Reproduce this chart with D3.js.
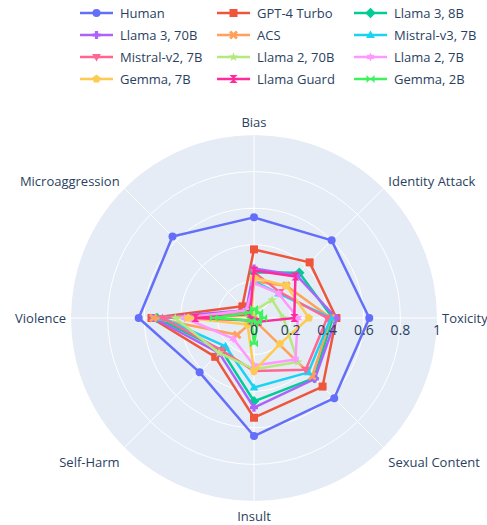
<!DOCTYPE html>
<html>
<head>
<meta charset="utf-8">
<script src="https://cdn.jsdelivr.net/npm/d3@7"></script>
<style>
  body { margin: 0; background: #fff; }
  svg { display: block; font-family: "Open Sans", verdana, arial, sans-serif; }
</style>
</head>
<body>
<svg id="chart" width="487" height="525"></svg>
<script>
// categories go counter-clockwise starting at 3 o'clock
const categories = ['Toxicity', 'Identity Attack', 'Bias', 'Microaggression', 'Violence', 'Self-Harm', 'Insult', 'Sexual Content']
const radialTicks = [0, 0.2, 0.4, 0.6, 0.8, 1]

const human      = [0.63, 0.60, 0.55, 0.63, 0.63, 0.42, 0.645, 0.62]
const gpt4Turbo  = [0.45, 0.43, 0.375, 0.09, 0.56, 0.30, 0.545, 0.53]
const llama3_8b  = [0.43, 0.35, 0.25, 0.05, 0.53, 0.25, 0.455, 0.465]
const llama3_70b = [0.45, 0.33, 0.27, 0.06, 0.55, 0.27, 0.49, 0.47]
const acs        = [0.42, 0.25, 0.20, 0.04, 0.55, 0.13, 0.01, 0.45]
const mistralV3  = [0.42, 0.19, 0.20, 0.03, 0.50, 0.22, 0.38, 0.42]
const mistralV2  = [0.40, 0.20, 0.25, 0.04, 0.50, 0.25, 0.29, 0.40]
const llama2_70b = [0.16, 0.14, 0.04, 0.03, 0.43, 0.27, 0.28, 0.34]
const llama2_7b  = [0.24, 0.19, 0.19, 0.06, 0.38, 0.16, 0.26, 0.32]
const gemma7b    = [0.30, 0.25, 0.22, 0.02, 0.36, 0.05, 0.29, 0.20]
const llamaGuard = [0.22, 0.32, 0.26, 0.03, 0.32, 0.02, 0.02, 0.03]
const gemma2b    = [0.05, 0.04, 0.05, 0.04, 0.22, 0.02, 0.14, 0.03]

const series = [
  {name: 'Human', values: human, color: '#636efa', symbol: 'circle'},
  {name: 'GPT-4 Turbo', values: gpt4Turbo, color: '#EF553B', symbol: 'square'},
  {name: 'Llama 3, 8B', values: llama3_8b, color: '#00cc96', symbol: 'diamond'},
  {name: 'Llama 3, 70B', values: llama3_70b, color: '#ab63fa', symbol: 'cross'},
  {name: 'ACS', values: acs, color: '#FFA15A', symbol: 'x'},
  {name: 'Mistral-v3, 7B', values: mistralV3, color: '#19d3f3', symbol: 'triangle-up'},
  {name: 'Mistral-v2, 7B', values: mistralV2, color: '#FF6692', symbol: 'triangle-down'},
  {name: 'Llama 2, 70B', values: llama2_70b, color: '#B6E880', symbol: 'star'},
  {name: 'Llama 2, 7B', values: llama2_7b, color: '#FF97FF', symbol: 'hexagram'},
  {name: 'Gemma, 7B', values: gemma7b, color: '#FECB52', symbol: 'pentagon'},
  {name: 'Llama Guard', values: llamaGuard, color: '#ff2a9b', symbol: 'hourglass'},
  {name: 'Gemma, 2B', values: gemma2b, color: '#3ef25c', symbol: 'bowtie'}
]

const svg = d3.select('#chart')
const cx = 254, cy = 318, R = 183
const textColor = '#2a3f5f'

let r = d3.scaleLinear().domain([0, 1]).range([0, R])
let angle = d3.scalePoint().domain(categories).range([0, 2 * Math.PI * 7 / 8])
// counter-clockwise from east
let px = (cat, v) => cx + r(v) * Math.cos(angle(cat))
let py = (cat, v) => cy - r(v) * Math.sin(angle(cat))

// marker shapes
let poly = (pts) => 'M' + pts.map(p => p.join(',')).join('L') + 'Z'
let symbolPath = (name, s) => {
  let h = s / 2
  switch (name) {
    case 'circle': return d3.symbol(d3.symbolCircle, s * s * 0.785)()
    case 'square': return poly([[-h, -h], [h, -h], [h, h], [-h, h]])
    case 'diamond': return poly([[0, -h * 1.3], [h * 1.3, 0], [0, h * 1.3], [-h * 1.3, 0]])
    case 'cross': {
      let t = h * 0.4
      return poly([[-t, -h], [t, -h], [t, -t], [h, -t], [h, t], [t, t], [t, h], [-t, h], [-t, t], [-h, t], [-h, -t], [-t, -t]])
    }
    case 'x': {
      // two crossed bars
      let b = h * 1.2, w = h * 0.35
      let bar = (a) => {
        let c = Math.cos(a), sn = Math.sin(a)
        let q = [[-b, -w], [b, -w], [b, w], [-b, w]].map(([x, y]) => [x * c - y * sn, x * sn + y * c])
        return poly(q)
      }
      return bar(Math.PI / 4) + bar(-Math.PI / 4)
    }
    case 'triangle-up': return poly([[0, -h * 1.15], [h * 1.1, h * 0.75], [-h * 1.1, h * 0.75]])
    case 'triangle-down': return poly([[0, h * 1.15], [h * 1.1, -h * 0.75], [-h * 1.1, -h * 0.75]])
    case 'star': {
      let pts = []
      for (let k = 0; k < 10; k++) {
        let a = -Math.PI / 2 + k * Math.PI / 5
        let rr = k % 2 ? h * 0.5 : h * 1.25
        pts.push([rr * Math.cos(a), rr * Math.sin(a)])
      }
      return poly(pts)
    }
    case 'hexagram': {
      let pts = []
      for (let k = 0; k < 12; k++) {
        let a = -Math.PI / 2 + k * Math.PI / 6
        let rr = k % 2 ? h * 0.6 : h * 1.15
        pts.push([rr * Math.cos(a), rr * Math.sin(a)])
      }
      return poly(pts)
    }
    case 'pentagon': {
      let pts = []
      for (let k = 0; k < 5; k++) {
        let a = -Math.PI / 2 + k * 2 * Math.PI / 5
        pts.push([h * 1.1 * Math.cos(a), h * 1.1 * Math.sin(a)])
      }
      return poly(pts)
    }
    case 'hourglass': return poly([[-h, -h], [h, -h], [-h, h], [h, h]])
    case 'bowtie': return poly([[-h, -h], [-h, h], [h, -h], [h, h]])
  }
}

// polar background
svg.append('circle').attr('cx', cx).attr('cy', cy).attr('r', R).attr('fill', '#e5ecf6')

// radial gridlines
svg.append('g').selectAll('circle')
  .data(radialTicks.filter(t => t > 0 && t < 1))
  .join('circle')
  .attr('cx', cx).attr('cy', cy).attr('r', d => r(d))
  .attr('fill', 'none').attr('stroke', '#fff').attr('stroke-width', 1)

// angular spokes
svg.append('g').selectAll('line')
  .data(categories)
  .join('line')
  .attr('x1', cx).attr('y1', cy)
  .attr('x2', d => px(d, 1)).attr('y2', d => py(d, 1))
  .attr('stroke', '#fff').attr('stroke-width', 1)

// angular labels
svg.append('g').selectAll('text')
  .data(categories)
  .join('text')
  .each(function(d) {
    let a = angle(d)
    let c = Math.cos(a), s = Math.sin(a)
    let pad = Math.abs(s) < 0.1 ? 5 : 7
    let x = px(d, 1) + pad * c
    let y = py(d, 1) - pad * s
    let anchor = c > 0.1 ? 'start' : (c < -0.1 ? 'end' : 'middle')
    let dy
    if (s > 0.9) dy = -1.5
    else if (s > 0.1) dy = 2
    else if (s < -0.9) dy = 13
    else if (s < -0.1) dy = 15
    else dy = 4.5
    d3.select(this).attr('x', x).attr('y', y + dy).attr('text-anchor', anchor)
  })
  .attr('font-size', 13).attr('fill', textColor)
  .text(d => d)

// series
let lineGen = d3.lineRadial()
  .angle(d => Math.PI / 2 - angle(d.cat))
  .radius(d => r(d.v))
  .curve(d3.curveLinearClosed)

let plot = svg.append('g').attr('transform', `translate(${cx},${cy})`)
series.forEach(s => {
  let pts = categories.map((cat, i) => ({cat: cat, v: s.values[i]}))
  let g = plot.append('g')
  g.append('path')
    .attr('d', lineGen(pts))
    .attr('fill', 'none')
    .attr('stroke', s.color)
    .attr('stroke-width', 2.5)
    .attr('stroke-linejoin', 'round')
  g.selectAll('path.m')
    .data(pts)
    .join('path')
    .attr('class', 'm')
    .attr('transform', d => `translate(${px(d.cat, d.v) - cx},${py(d.cat, d.v) - cy})`)
    .attr('d', symbolPath(s.symbol, 8))
    .attr('fill', s.color)
})

// radial tick labels along the 0 deg axis
svg.append('g').selectAll('text')
  .data(radialTicks)
  .join('text')
  .attr('x', d => cx + r(d))
  .attr('y', cy + 16.5)
  .attr('text-anchor', 'middle')
  .attr('font-size', 14).attr('fill', textColor)
  .text(d => d)

// legend, 3 columns x 4 rows
let colX = [80, 217, 354]
let rowY = [13, 35, 57, 79]
let legend = svg.append('g')
series.forEach((s, i) => {
  let x = colX[i % 3], y = rowY[Math.floor(i / 3)]
  let item = legend.append('g').attr('transform', `translate(${x},${y})`)
  item.append('line').attr('x1', 0).attr('x2', 33).attr('y1', 0).attr('y2', 0)
    .attr('stroke', s.color).attr('stroke-width', 2.5)
  item.append('path').attr('transform', 'translate(16.5,0)')
    .attr('d', symbolPath(s.symbol, 8)).attr('fill', s.color)
  item.append('text').attr('x', 40).attr('y', 4.5)
    .attr('font-size', 13).attr('fill', textColor)
    .text(s.name)
})
</script>
</body>
</html>
